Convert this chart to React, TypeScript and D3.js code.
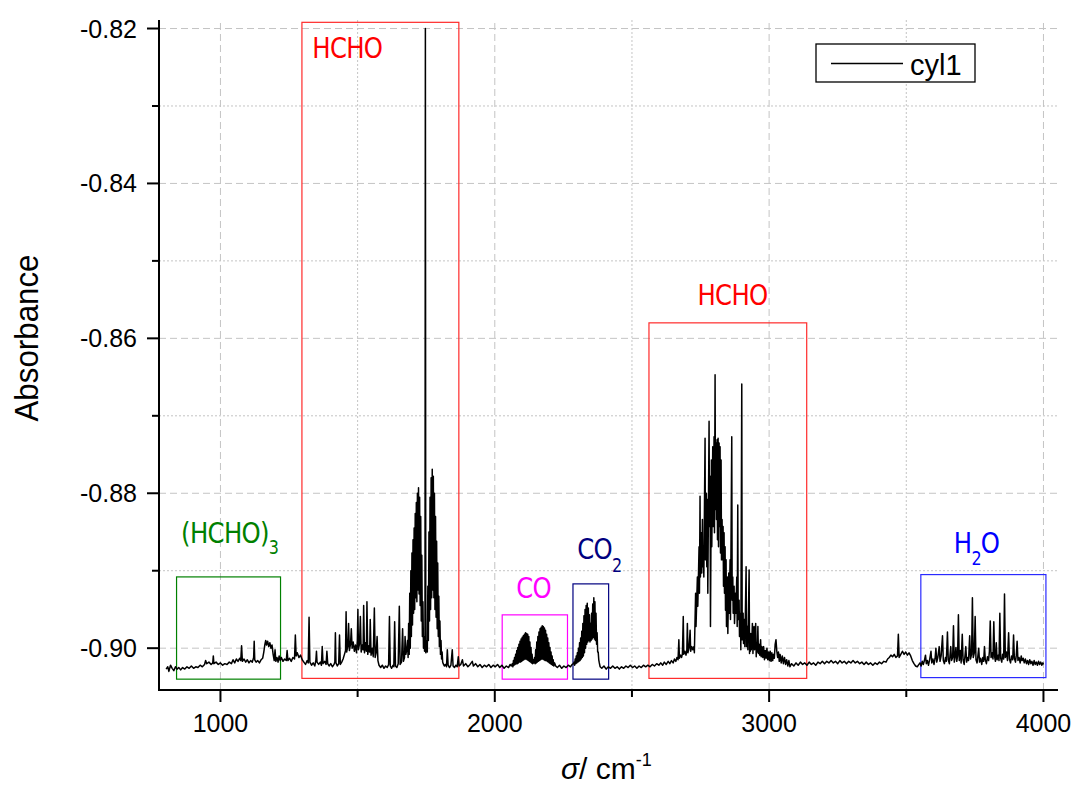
import React from "react";
import * as d3 from "d3";

const W = 1076;
const H = 787;

const xDomain: [number, number] = [776, 4053];
const yDomain: [number, number] = [-0.9054, -0.8189];
const xTicksMajor = [1000, 2000, 3000, 4000];
const xTicksMinor = [1500, 2500, 3500];
const yTicksMajor = [-0.9, -0.88, -0.86, -0.84, -0.82];
const yTicksMinor = [-0.89, -0.87, -0.85, -0.83];

const seriesName = "cyl1";

// wavenumber (cm-1), absorbance
const region800to1300: [number, number][] = [
  [802,-0.9027],[808,-0.9024],[812,-0.9030],[818,-0.9022],[824,-0.9026],[830,-0.9029],[836,-0.9024],[842,-0.9027],
  [848,-0.9025],[855,-0.9028],[862,-0.9025],[870,-0.9027],[878,-0.9024],[886,-0.9026],[894,-0.9023],[902,-0.9026],
  [910,-0.9024],[918,-0.9025],[926,-0.9022],[934,-0.9024],[942,-0.9021],[946,-0.9016],[950,-0.9020],[958,-0.9018],
  [966,-0.9021],[972,-0.9019],[974,-0.9010],[976,-0.9020],[984,-0.9018],[992,-0.9021],[1000,-0.9019],[1008,-0.9022],
  [1016,-0.9020],[1024,-0.9021],[1032,-0.9018],[1040,-0.9020],[1046,-0.9015],[1052,-0.9019],[1058,-0.9014],[1064,-0.9017],
  [1070,-0.9013],[1074,-0.9016],[1077,-0.8997],[1080,-0.9017],[1086,-0.9014],[1092,-0.9018],[1098,-0.9015],[1104,-0.9019],
  [1110,-0.9016],[1116,-0.9018],[1121,-0.9012],[1123,-0.8991],[1125,-0.9015],[1130,-0.9018],[1136,-0.9016],[1142,-0.9019],
  [1148,-0.9015],[1154,-0.9013],[1158,-0.9005],[1162,-0.8995],[1165,-0.8990],[1168,-0.8996],[1172,-0.8991],[1176,-0.8998],
  [1180,-0.8993],[1184,-0.9000],[1188,-0.8996],[1192,-0.9008],[1196,-0.9016],[1199,-0.9002],[1202,-0.9017],[1206,-0.9012],
  [1210,-0.9018],[1214,-0.9010],[1218,-0.9016],[1222,-0.9012],[1228,-0.9017],[1234,-0.9014],[1240,-0.9016],[1243,-0.9003],
  [1246,-0.9016],[1252,-0.9013],[1258,-0.9017],[1264,-0.9012],[1270,-0.9014],[1273,-0.8983],[1276,-0.9010],[1280,-0.9006],
  [1286,-0.9012],[1292,-0.9009],[1298,-0.9015],
];

const region1300to1680: [number, number][] = [
  [1304,-0.9018],[1310,-0.9021],[1316,-0.9016],[1320,-0.9019],[1323,-0.8960],[1326,-0.9018],[1332,-0.9022],[1338,-0.9019],
  [1344,-0.9023],[1348,-0.9015],[1350,-0.9004],[1352,-0.9018],[1358,-0.9021],[1364,-0.9018],[1368,-0.9022],[1371,-0.8998],
  [1374,-0.9020],[1380,-0.9017],[1385,-0.9021],[1388,-0.9004],[1391,-0.9020],[1396,-0.9023],[1402,-0.9020],[1408,-0.9024],
  [1414,-0.9021],[1417,-0.9018],[1419,-0.8980],[1421,-0.9019],[1426,-0.9023],[1431,-0.9020],[1434,-0.8983],[1437,-0.9021],
  [1442,-0.9018],[1447,-0.9014],[1452,-0.9008],[1456,-0.9003],[1458,-0.8953],[1460,-0.9005],[1464,-0.8998],[1467,-0.8968],
  [1470,-0.9003],[1474,-0.8995],[1477,-0.8975],[1480,-0.9000],[1484,-0.8992],[1488,-0.9004],[1492,-0.8996],[1496,-0.9006],
  [1499,-0.8990],[1501,-0.8950],[1503,-0.9002],[1507,-0.8994],[1510,-0.8959],[1513,-0.9005],[1517,-0.8996],[1520,-0.9002],
  [1522,-0.8945],[1525,-0.9006],[1529,-0.8993],[1532,-0.9004],[1534,-0.8940],[1537,-0.9008],[1541,-0.8997],[1544,-0.9005],
  [1546,-0.8963],[1549,-0.9009],[1553,-0.9000],[1557,-0.9011],[1561,-0.8948],[1564,-0.9012],[1568,-0.9005],[1571,-0.8985],
  [1574,-0.9016],[1578,-0.9022],[1584,-0.9025],[1590,-0.9022],[1596,-0.9026],[1602,-0.9023],[1608,-0.9025],[1613,-0.9021],
  [1616,-0.8959],[1619,-0.9023],[1624,-0.9026],[1629,-0.9022],[1632,-0.9024],[1635,-0.8966],[1638,-0.9023],[1643,-0.9025],
  [1648,-0.9020],[1652,-0.8946],[1655,-0.9021],[1660,-0.9018],[1664,-0.8975],[1667,-0.9017],[1671,-0.9012],[1673,-0.8985],
  [1676,-0.9008],
];

const hcho1745Band: [number, number][] = [
  [1680,-0.9000],[1682,-0.8990],[1684,-0.9012],[1686,-0.8968],[1688,-0.9008],[1690,-0.8929],[1692,-0.9000],[1694,-0.8900],
  [1696,-0.8985],[1698,-0.8877],[1700,-0.8970],[1702,-0.8860],[1704,-0.8955],[1706,-0.8845],[1708,-0.8950],[1710,-0.8826],
  [1712,-0.8935],[1714,-0.8812],[1716,-0.8940],[1718,-0.8800],[1720,-0.8925],[1722,-0.8793],[1724,-0.8930],[1726,-0.8805],
  [1728,-0.8945],[1730,-0.8830],[1732,-0.8965],[1734,-0.8880],[1736,-0.8985],[1738,-0.8940],[1740,-0.9000],[1742,-0.8985],
  [1744,-0.9004],[1745.5,-0.9003],[1747,-0.8200],[1748.5,-0.9006],[1750,-0.9000],[1752,-0.8990],[1754,-0.9005],[1756,-0.8920],
  [1758,-0.8990],[1760,-0.8850],[1762,-0.8965],[1764,-0.8805],[1766,-0.8950],[1768,-0.8780],[1770,-0.8935],[1772,-0.8769],
  [1774,-0.8925],[1776,-0.8778],[1778,-0.8935],[1780,-0.8800],[1782,-0.8950],[1784,-0.8830],[1786,-0.8960],[1788,-0.8862],
  [1790,-0.8975],[1792,-0.8890],[1794,-0.8985],[1796,-0.8933],[1798,-0.8998],[1800,-0.8965],[1802,-0.9008],[1804,-0.8990],
  [1806,-0.9014],[1808,-0.9005],[1810,-0.9018],[1812,-0.9020],[1816,-0.9023],[1820,-0.9021],[1824,-0.9024],[1827,-0.9002],
  [1830,-0.9022],[1835,-0.9025],[1840,-0.9022],[1845,-0.9002],[1848,-0.9023],[1853,-0.9025],[1858,-0.9022],[1863,-0.9024],
  [1867,-0.9011],[1870,-0.9023],
];

const region1870to2060: [number, number][] = [
  [1876,-0.9021],[1882,-0.9015],[1886,-0.9023],[1894,-0.9020],[1902,-0.9024],[1910,-0.9021],[1918,-0.9017],[1922,-0.9023],
  [1930,-0.9020],[1938,-0.9024],[1946,-0.9021],[1954,-0.9025],[1962,-0.9022],[1970,-0.9024],[1978,-0.9021],[1986,-0.9025],
  [1994,-0.9022],[2002,-0.9024],[2010,-0.9021],[2018,-0.9025],[2026,-0.9022],[2034,-0.9026],[2042,-0.9023],[2050,-0.9025],
  [2056,-0.9021],[2060,-0.9023],
];

const coBand: [number, number][] = [
  [2064,-0.9020],[2066,-0.9024],[2068,-0.9016],[2070,-0.9022],[2072,-0.9012],[2074,-0.9021],[2076,-0.9008],[2078,-0.9020],
  [2080,-0.9003],[2082,-0.9020],[2084,-0.8999],[2086,-0.9019],[2088,-0.8995],[2090,-0.9018],[2092,-0.8991],[2094,-0.9018],
  [2096,-0.8988],[2098,-0.9017],[2100,-0.8986],[2102,-0.9016],[2104,-0.8984],[2106,-0.9015],[2108,-0.8982],[2110,-0.9014],
  [2112,-0.8980],[2114,-0.9014],[2116,-0.8981],[2118,-0.9015],[2120,-0.8982],[2122,-0.9016],[2124,-0.8985],[2126,-0.9017],
  [2128,-0.8992],[2130,-0.9018],[2132,-0.8999],[2134,-0.9019],[2136,-0.9008],[2138,-0.9020],[2140,-0.9015],[2142,-0.9019],
  [2145,-0.9012],[2147,-0.9020],[2149,-0.9002],[2151,-0.9019],[2153,-0.8992],[2155,-0.9018],[2157,-0.8985],[2159,-0.9017],
  [2161,-0.8979],[2163,-0.9016],[2165,-0.8975],[2167,-0.9015],[2169,-0.8973],[2171,-0.9014],[2173,-0.8971],[2175,-0.9014],
  [2177,-0.8972],[2179,-0.9015],[2181,-0.8974],[2183,-0.9016],[2185,-0.8977],[2187,-0.9016],[2189,-0.8982],[2191,-0.9017],
  [2193,-0.8987],[2195,-0.9018],[2197,-0.8993],[2199,-0.9019],[2201,-0.8999],[2203,-0.9020],[2205,-0.9005],[2207,-0.9021],
  [2209,-0.9010],[2211,-0.9022],[2213,-0.9015],[2215,-0.9023],[2218,-0.9019],[2222,-0.9023],
  [2228,-0.9025],[2236,-0.9022],[2244,-0.9026],[2252,-0.9023],[2260,-0.9025],[2268,-0.9022],[2276,-0.9024],[2282,-0.9021],
  [2287,-0.9020],
];

const co2Band: [number, number][] = [
  [2289,-0.9018],[2291,-0.9022],[2293,-0.9014],[2295,-0.9020],[2297,-0.9010],[2299,-0.9019],[2301,-0.9006],[2303,-0.9018],
  [2305,-0.9000],[2307,-0.9017],[2309,-0.8993],[2311,-0.9016],[2313,-0.8987],[2315,-0.9014],[2317,-0.8978],[2319,-0.9012],
  [2321,-0.8968],[2323,-0.9010],[2325,-0.8958],[2327,-0.9006],[2329,-0.8950],[2331,-0.9000],[2333,-0.8945],[2335,-0.8995],
  [2337,-0.8942],[2339,-0.8992],[2341,-0.8948],[2343,-0.8990],[2345,-0.8957],[2347,-0.8992],[2349,-0.8968],[2351,-0.8990],
  [2353,-0.8955],[2355,-0.8988],[2357,-0.8943],[2359,-0.8986],[2361,-0.8935],[2363,-0.8988],[2365,-0.8940],[2367,-0.8990],
  [2369,-0.8955],[2371,-0.8995],[2373,-0.8980],[2375,-0.9005],[2377,-0.9005],[2379,-0.9015],[2381,-0.9019],[2384,-0.9024],
  [2390,-0.9026],[2398,-0.9023],[2406,-0.9027],[2414,-0.9024],[2422,-0.9026],[2430,-0.9023],[2438,-0.9026],[2446,-0.9024],
  [2454,-0.9027],[2462,-0.9024],[2470,-0.9026],[2478,-0.9023],[2486,-0.9025],[2494,-0.9022],[2502,-0.9025],[2510,-0.9023],
  [2518,-0.9026],[2526,-0.9023],[2534,-0.9025],[2542,-0.9022],[2550,-0.9024],[2558,-0.9022],[2566,-0.9024],[2574,-0.9021],
  [2582,-0.9023],[2590,-0.9020],[2598,-0.9022],
];

const hcho2800Band: [number, number][] = [
  [2605,-0.9019],[2612,-0.9022],[2618,-0.9018],[2625,-0.9021],[2632,-0.9017],[2638,-0.9020],[2644,-0.9016],[2650,-0.9019],
  [2655,-0.9014],[2660,-0.9017],[2664,-0.9012],[2668,-0.9015],[2671,-0.8989],[2673,-0.9013],[2677,-0.9009],[2681,-0.9012],
  [2684,-0.9007],[2687,-0.8959],[2689,-0.9008],[2693,-0.9004],[2697,-0.9009],[2700,-0.9003],[2702,-0.8968],[2704,-0.9006],
  [2708,-0.9000],[2712,-0.8977],[2714,-0.9004],[2718,-0.8998],[2722,-0.9002],
  [2726,-0.8998],[2727.5,-0.9006],[2732,-0.8929],[2733.5,-0.8972],[2738.5,-0.8908],[2740,-0.8946],[2744.6,-0.8869],[2746,-0.8929],
  [2748.2,-0.8804],[2749.5,-0.8908],[2753.1,-0.8851],[2754.5,-0.8903],[2756.8,-0.8834],[2758,-0.8895],[2760.4,-0.8869],[2762,-0.8908],
  [2766.5,-0.8729],[2768,-0.8886],[2771.3,-0.8800],[2772.8,-0.8895],[2775,-0.8808],[2776.5,-0.8929],[2781.1,-0.8707],[2782.5,-0.8843],
  [2784.7,-0.8778],[2786.2,-0.8972],[2789.6,-0.8757],[2791,-0.8869],[2794.5,-0.8740],[2796,-0.8843],[2799.3,-0.8727],[2800.8,-0.8851],
  [2803,-0.8647],[2804.5,-0.8821],[2806.6,-0.8735],[2808,-0.8834],[2810.3,-0.8731],[2811.8,-0.8860],[2814,-0.8729],[2815.5,-0.8869],
  [2817.6,-0.8735],[2819,-0.8843],[2821.2,-0.8740],[2822.7,-0.8877],[2824.9,-0.8757],[2826.4,-0.8886],[2828.5,-0.8834],[2830,-0.8886],
  [2832.2,-0.8843],[2833.7,-0.8920],[2835.8,-0.8851],[2837.3,-0.8929],[2839.5,-0.8869],[2841,-0.8951],[2843.1,-0.8886],[2844.6,-0.8972],
  [2848,-0.8908],[2849.5,-0.8981],[2852.9,-0.8903],[2854.4,-0.8955],[2857.7,-0.8886],[2859.2,-0.8963],[2863.8,-0.8727],[2865.3,-0.8938],
  [2867.5,-0.8908],[2869,-0.8955],[2872.3,-0.8920],[2873.8,-0.8968],[2877.2,-0.8929],[2878.7,-0.8955],[2882.1,-0.8908],[2883.6,-0.8972],
  [2885.7,-0.8815],[2887.2,-0.8963],[2890.6,-0.8938],[2892,-0.8985],[2895.4,-0.8955],[2896.9,-0.9002],[2900.3,-0.8659],[2901.8,-0.8989],
  [2905.2,-0.8955],[2906.7,-0.8994],[2910,-0.8963],[2911.5,-0.8998],[2916.1,-0.8895],[2917.6,-0.8998],[2921,-0.8972],[2922.5,-0.9002],
  [2927.1,-0.8899],[2928.6,-0.9007],
  [2930,-0.8985],[2931.5,-0.9004],[2933,-0.8981],[2935,-0.9002],[2937,-0.8990],[2939,-0.8968],[2941,-0.9007],[2943,-0.8985],
  [2945,-0.8972],[2947,-0.9002],[2949,-0.8990],[2951,-0.8968],[2953,-0.9011],[2955,-0.8993],[2957,-0.9005],[2959,-0.8972],
  [2961,-0.9007],[2963,-0.8995],[2966,-0.9009],[2969,-0.8989],[2971,-0.9011],[2974,-0.8998],[2977,-0.9012],[2980,-0.8998],
  [2983,-0.9015],[2986,-0.9003],[2989,-0.9013],[2992,-0.9000],[2995,-0.9015],[2998,-0.9005],[3001,-0.9016],[3004,-0.9004],
  [3007,-0.9017],[3010,-0.9006],[3013,-0.9016],[3016,-0.9008],[3019,-0.9013],[3022,-0.8995],[3025,-0.8989],[3028,-0.9004],
  [3031,-0.9012],[3034,-0.9005],[3037,-0.9017],[3040,-0.9008],[3044,-0.9019],[3048,-0.9010],[3052,-0.9020],[3056,-0.9012],
  [3060,-0.9021],[3064,-0.9015],[3068,-0.9023],[3072,-0.9016],[3076,-0.9024],
];

const region3080to3546: [number, number][] = [
  [3082,-0.9020],[3090,-0.9023],[3098,-0.9019],[3106,-0.9022],[3114,-0.9018],[3122,-0.9021],[3130,-0.9019],[3138,-0.9022],
  [3146,-0.9018],[3154,-0.9021],[3162,-0.9019],[3170,-0.9022],[3178,-0.9018],[3186,-0.9020],[3194,-0.9017],[3202,-0.9020],
  [3210,-0.9017],[3218,-0.9019],[3226,-0.9016],[3234,-0.9019],[3242,-0.9017],[3250,-0.9020],[3258,-0.9016],[3266,-0.9019],
  [3274,-0.9017],[3282,-0.9020],[3290,-0.9017],[3298,-0.9019],[3306,-0.9016],[3314,-0.9019],[3322,-0.9017],[3330,-0.9020],
  [3338,-0.9018],[3346,-0.9021],[3354,-0.9018],[3362,-0.9021],[3370,-0.9019],[3378,-0.9022],[3386,-0.9019],[3394,-0.9021],
  [3402,-0.9018],[3410,-0.9020],[3418,-0.9017],[3426,-0.9018],[3432,-0.9014],[3438,-0.9012],[3444,-0.9009],[3450,-0.9011],
  [3456,-0.9008],[3462,-0.9012],[3468,-0.9010],[3471,-0.8982],[3474,-0.9012],[3480,-0.9008],[3486,-0.9004],[3492,-0.9008],
  [3498,-0.9005],[3504,-0.9009],[3510,-0.9006],[3516,-0.9010],[3522,-0.9016],[3528,-0.9020],[3534,-0.9023],[3540,-0.9024],
  [3546,-0.9021],
];

const waterBand: [number, number][] = [
  [3550,-0.9019],[3554,-0.9023],[3558,-0.9017],[3562,-0.9021],[3566,-0.9016],[3570,-0.9009],[3573,-0.9020],[3577,-0.9016],
  [3581,-0.9022],[3585,-0.9015],[3590,-0.9004],[3593,-0.9019],[3597,-0.9014],[3601,-0.9021],[3605,-0.9013],[3608,-0.9000],
  [3611,-0.9018],[3615,-0.9012],[3620,-0.8998],[3623,-0.9017],[3627,-0.9010],[3632,-0.8984],[3635,-0.9016],[3639,-0.9020],
  [3643,-0.9012],[3646,-0.9017],[3650,-0.8979],[3653,-0.9015],[3657,-0.9020],[3662,-0.8998],[3665,-0.9016],[3669,-0.9012],
  [3672,-0.8971],[3675,-0.9018],[3678,-0.9011],[3681,-0.8999],[3684,-0.9017],[3687,-0.9010],[3690,-0.8957],[3693,-0.9016],
  [3697,-0.9003],[3700,-0.9019],[3704,-0.8982],[3707,-0.9015],[3711,-0.9021],[3714,-0.9010],[3717,-0.8998],[3720,-0.9018],
  [3724,-0.9012],[3727,-0.9016],[3731,-0.8984],[3734,-0.9014],[3738,-0.9008],[3741,-0.8935],[3744,-0.9012],[3748,-0.9006],
  [3751,-0.8959],[3754,-0.9015],[3758,-0.9019],[3761,-0.9010],[3764,-0.9000],[3767,-0.9018],[3771,-0.9013],[3775,-0.9021],
  [3779,-0.9012],[3782,-0.9017],[3785,-0.8998],[3788,-0.9015],[3792,-0.9020],[3796,-0.9011],[3800,-0.9016],[3803,-0.9004],
  [3806,-0.8965],[3809,-0.9012],[3813,-0.9006],[3816,-0.9014],[3819,-0.8966],[3822,-0.9011],[3825,-0.9017],[3828,-0.8993],
  [3831,-0.9015],[3835,-0.9009],[3838,-0.9016],[3841,-0.8955],[3844,-0.9013],[3848,-0.9018],[3851,-0.9008],[3855,-0.9014],
  [3858,-0.8930],[3861,-0.9012],[3865,-0.9005],[3869,-0.9016],[3873,-0.8980],[3876,-0.9014],[3880,-0.9019],[3884,-0.9010],
  [3888,-0.9015],[3891,-0.8983],[3894,-0.9013],[3898,-0.9018],[3901,-0.9009],[3904,-0.8991],[3907,-0.9016],[3911,-0.9012],
  [3915,-0.9019],[3919,-0.9010],[3922,-0.9016],[3926,-0.9013],[3930,-0.9019],[3934,-0.9014],[3938,-0.9020],[3942,-0.9016],
  [3946,-0.9021],[3950,-0.9015],[3954,-0.9020],[3958,-0.9017],[3962,-0.9022],[3966,-0.9016],[3970,-0.9021],[3974,-0.9018],
  [3978,-0.9022],[3982,-0.9017],[3986,-0.9021],[3990,-0.9018],[3994,-0.9022],[3998,-0.9019],[4000,-0.9021],
];

// annotation boxes: [x0, x1, yBottom, yTop] in data units
const boxLabels = ["(HCHO)3", "HCHO", "CO", "CO2", "HCHO", "H2O"];
const boxColors = ["#008000", "#ff2a2a", "#ff00ff", "#000080", "#ff2a2a", "#2a2aff"];
const labelColors = ["#008000", "#ff0000", "#ff00ff", "#000080", "#ff0000", "#0000ff"];
const boxX0 = [840, 1297, 2027, 2285, 2562, 3553];
const boxX1 = [1219, 1869, 2265, 2415, 3137, 4009];
const boxY0 = [-0.9040, -0.9039, -0.9040, -0.9040, -0.9039, -0.9038];
const boxY1 = [-0.8908, -0.8192, -0.8957, -0.8917, -0.8580, -0.8905];
// label anchor (left x, baseline y) in data units
const labelX = [856.6, 1334.7, 2078, 2300.7, 2738.7, 3673];
const labelY = [-0.8864, -0.82386, -0.8935, -0.88853, -0.85565, -0.88769];

const spectrum: [number, number][] = [
  ...region800to1300,
  ...region1300to1680,
  ...hcho1745Band,
  ...region1870to2060,
  ...coBand,
  ...co2Band,
  ...hcho2800Band,
  ...region3080to3546,
  ...waterBand,
].sort((a, b) => a[0] - b[0]);

const sansFont = "'Liberation Sans', Arial, sans-serif";
const labelFont = "'DejaVu Sans', Verdana, sans-serif";

function Label({ i, x, y }: { i: number; x: number; y: number }) {
  const t = boxLabels[i];
  const col = labelColors[i];
  const fs = 29;
  const sub = 19;
  let content: React.ReactNode;
  if (t === "(HCHO)3") {
    content = (
      <>
        <tspan>(HCHO)</tspan>
        <tspan fontSize={sub} dy={11}>3</tspan>
      </>
    );
  } else if (t === "CO2") {
    content = (
      <>
        <tspan>CO</tspan>
        <tspan fontSize={sub} dy={13}>2</tspan>
      </>
    );
  } else if (t === "H2O") {
    content = (
      <>
        <tspan>H</tspan>
        <tspan fontSize={sub} dy={12}>2</tspan>
        <tspan dy={-12}>O</tspan>
      </>
    );
  } else {
    content = <tspan>{t}</tspan>;
  }
  return (
    <g transform={`translate(${x},${y}) scale(0.84,1)`}>
      <text x={0} y={0} fill={col} fontFamily={labelFont} fontSize={fs} letterSpacing={-0.8}>
        {content}
      </text>
    </g>
  );
}

export default function App() {
  const x = d3.scaleLinear().domain(xDomain).range([159, 1058]);
  const y = d3.scaleLinear().domain(yDomain).range([690, 20]);
  const [xl, xr] = x.range();
  const [yb, yt] = y.range();

  const line = d3
    .line<[number, number]>()
    .x((d) => x(d[0]))
    .y((d) => y(d[1]));

  const gridCol = "#c4c4c4";
  const fmtY = (v: number) => v.toFixed(2);

  return (
    <svg
      width={W}
      height={H}
      viewBox={`0 0 ${W} ${H}`}
      style={{ position: "absolute", left: 0, top: 0, background: "#fff" }}
    >
      {/* grid */}
      {xTicksMajor.map((t) => (
        <line key={"gx" + t} x1={x(t)} x2={x(t)} y1={yb} y2={yt} stroke={gridCol} strokeWidth={1} strokeDasharray="7,4" />
      ))}
      {xTicksMinor.map((t) => (
        <line key={"gxm" + t} x1={x(t)} x2={x(t)} y1={yb} y2={yt} stroke={gridCol} strokeWidth={1} strokeDasharray="2,2" />
      ))}
      {yTicksMajor.map((t) => (
        <line key={"gy" + t} x1={xl} x2={xr} y1={y(t)} y2={y(t)} stroke={gridCol} strokeWidth={1} strokeDasharray="7,4" />
      ))}
      {yTicksMinor.map((t) => (
        <line key={"gym" + t} x1={xl} x2={xr} y1={y(t)} y2={y(t)} stroke={gridCol} strokeWidth={1} strokeDasharray="2,2" />
      ))}

      {/* annotation boxes */}
      {boxX0.map((v, i) => (
        <rect
          key={"box" + i}
          x={x(v)}
          y={y(boxY1[i])}
          width={x(boxX1[i]) - x(v)}
          height={y(boxY0[i]) - y(boxY1[i])}
          fill="none"
          stroke={boxColors[i]}
          strokeWidth={1.2}
        />
      ))}

      {/* spectrum */}
      <path d={line(spectrum) || ""} fill="none" stroke="#000" strokeWidth={1.5} strokeLinejoin="round" />

      {/* axes */}
      <line x1={xl} x2={xl} y1={yt} y2={yb + 1} stroke="#000" strokeWidth={2} />
      <line x1={xl - 1} x2={xr} y1={yb} y2={yb} stroke="#000" strokeWidth={2} />
      {yTicksMajor.map((t) => (
        <g key={"yt" + t}>
          <line x1={xl - 12} x2={xl} y1={y(t)} y2={y(t)} stroke="#000" strokeWidth={2} />
          <text
            x={xl - 22}
            y={y(t) + 9}
            textAnchor="end"
            fontFamily={sansFont}
            fontSize={25}
            fill="#000"
          >
            {fmtY(t)}
          </text>
        </g>
      ))}
      {yTicksMinor.map((t) => (
        <line key={"ytm" + t} x1={xl - 7} x2={xl} y1={y(t)} y2={y(t)} stroke="#000" strokeWidth={2} />
      ))}
      {xTicksMajor.map((t) => (
        <g key={"xt" + t}>
          <line x1={x(t)} x2={x(t)} y1={yb} y2={yb + 12} stroke="#000" strokeWidth={2} />
          <text x={x(t)} y={yb + 42} textAnchor="middle" fontFamily={sansFont} fontSize={25} fill="#000">
            {t}
          </text>
        </g>
      ))}
      {xTicksMinor.map((t) => (
        <line key={"xtm" + t} x1={x(t)} x2={x(t)} y1={yb} y2={yb + 7} stroke="#000" strokeWidth={2} />
      ))}

      {/* axis titles */}
      <g transform={`translate(38,${(yt + yb) / 2 - 17}) rotate(-90)`}>
        <text x={0} y={0} textAnchor="middle" fontFamily={sansFont} fontSize={33} textLength={167} lengthAdjust="spacingAndGlyphs" fill="#000">
          Absorbance
        </text>
      </g>
      <text x={561} y={779} fontFamily={sansFont} fontSize={30} fill="#000">
        <tspan fontStyle="italic">σ</tspan>
        <tspan>/ cm</tspan>
        <tspan fontSize={18} dy={-13}>-1</tspan>
      </text>

      {/* labels */}
      {labelX.map((v, i) => (
        <Label key={"lab" + i} i={i} x={x(v)} y={y(labelY[i])} />
      ))}

      {/* legend */}
      <rect x={816} y={44} width={159} height={38} fill="#fff" stroke="#000" strokeWidth={1.3} />
      <line x1={831} x2={903} y1={63.5} y2={63.5} stroke="#000" strokeWidth={1.3} />
      <text x={910} y={75} fontFamily={sansFont} fontSize={29} fill="#000">
        {seriesName}
      </text>
    </svg>
  );
}
